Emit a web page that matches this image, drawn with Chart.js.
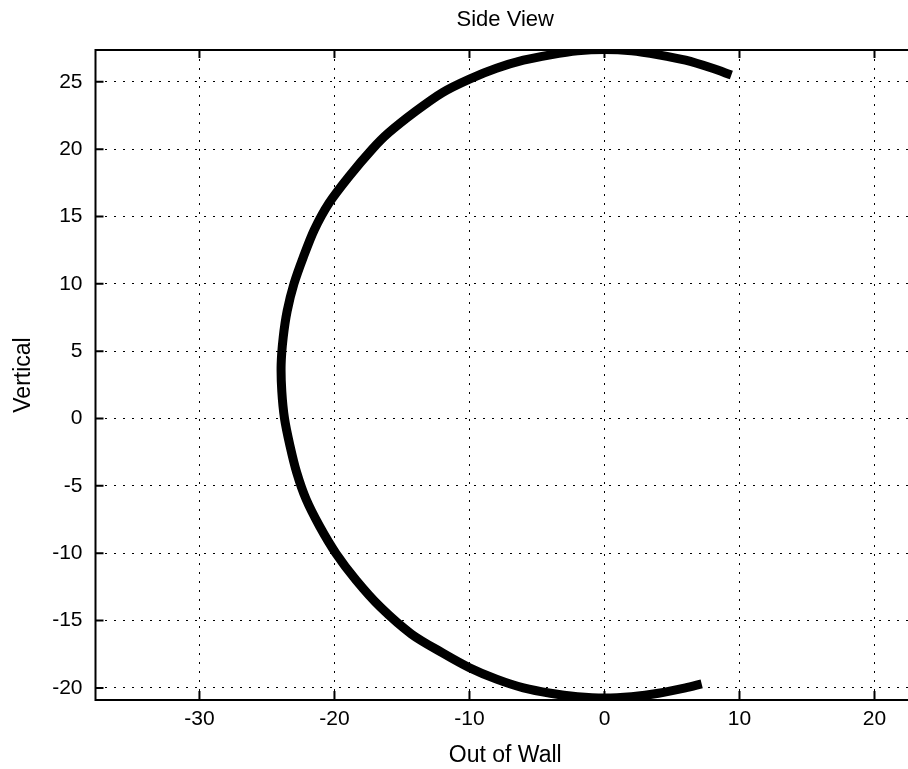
<!DOCTYPE html>
<html><head><meta charset="utf-8">
<script src="https://cdn.jsdelivr.net/npm/chart.js@4/dist/chart.umd.min.js"></script>
<style>html,body{margin:0;padding:0;background:#fff;overflow:hidden;}#wrap{width:930px;height:769px;}</style>
</head><body><div id="wrap"><canvas id="c" width="930" height="769"></canvas></div>
<script>
const chartTitle = 'Side View';
const xTitle = 'Out of Wall';
const yTitle = 'Vertical';
const xTicks = [-30, -20, -10, 0, 10, 20];
const yTicks = [-20, -15, -10, -5, 0, 5, 10, 15, 20, 25];
// points read along the arc, from the upper end round the left to the lower end
const sideX = [9.4, 8.0, 6.0, 4.0, 2.0, 0.0, -2.0, -4.0, -6.0, -8.0, -10.0, -12.0, -14.0, -16.0, -17.2, -18.9, -20.4, -21.5, -22.3, -23.0, -23.5, -23.8, -23.95, -23.9, -23.7, -23.3, -22.8, -22.1, -21.1, -19.9, -18.4, -16.6, -14.3, -12.0, -10.0, -8.0, -6.0, -4.0, -2.0, 0.0, 2.0, 4.0, 6.0, 7.2];
const sideY = [25.5, 26.0, 26.6, 27.0, 27.3, 27.4, 27.3, 27.0, 26.6, 26.0, 25.2, 24.2, 22.8, 21.2, 20.0, 18.0, 16.0, 14.0, 12.0, 10.0, 8.0, 6.0, 4.0, 2.0, 0.0, -2.0, -4.0, -6.0, -8.0, -10.0, -12.0, -14.0, -16.0, -17.4, -18.5, -19.35, -20.0, -20.4, -20.65, -20.75, -20.65, -20.4, -20.0, -19.7];

const FONT = "'Liberation Sans', Arial, sans-serif";
const pts = sideX.map((x, i) => ({x: x, y: sideY[i]}));

const boxPlugin = {
  id: 'box',
  afterDraw(chart) {
    const {ctx, chartArea: a, scales} = chart;
    ctx.save();
    ctx.strokeStyle = '#000';
    ctx.lineWidth = 2;
    ctx.strokeRect(a.left, a.top, a.right - a.left, a.bottom - a.top);
    ctx.beginPath();
    xTicks.forEach(v => {
      const p = scales.x.getPixelForValue(v);
      ctx.moveTo(p, a.bottom); ctx.lineTo(p, a.bottom - 9);
      ctx.moveTo(p, a.top); ctx.lineTo(p, a.top + 8);
    });
    yTicks.forEach(v => {
      const p = scales.y.getPixelForValue(v);
      ctx.moveTo(a.left, p); ctx.lineTo(a.left + 8, p);
    });
    ctx.stroke();
    ctx.restore();
  }
};

new Chart(document.getElementById('c'), {
  type: 'scatter',
  data: {
    datasets: [{
      data: pts,
      showLine: true,
      borderColor: '#000',
      backgroundColor: '#000',
      borderWidth: 9,
      tension: 0.3,
      pointRadius: 0
    }]
  },
  options: {
    responsive: false,
    animation: false,
    layout: {padding: {left: 0, right: 15, top: 0, bottom: 0}},
    plugins: {
      legend: {display: false},
      tooltip: {enabled: false},
      title: {display: true, fullSize: false, text: chartTitle, color: '#000', font: {family: FONT, size: 22, weight: 'normal'}, padding: {top: 7, bottom: 16.6}}
    },
    scales: {
      x: {
        type: 'linear', min: -37.7, max: 23.0,
        afterBuildTicks: s => { s.ticks = xTicks.map(v => ({value: v})); },
        afterFit: s => { s.height = 69; },
        grid: {color: '#000', lineWidth: 1, drawTicks: false},
        border: {display: false, dash: [2, 7]},
        ticks: {color: '#000', padding: 7, font: {family: FONT, size: 21}, maxRotation: 0},
        title: {display: true, text: xTitle, color: '#000', font: {family: FONT, size: 23}, padding: {top: 0, bottom: 0}}
      },
      y: {
        type: 'linear', min: -20.9, max: 27.36,
        afterBuildTicks: s => { s.ticks = yTicks.map(v => ({value: v})); },
        afterFit: s => { s.width = 95.5; },
        grid: {color: '#000', lineWidth: 1, drawTicks: false},
        border: {display: false, dash: [2, 7]},
        ticks: {color: '#000', padding: 13, font: {family: FONT, size: 21}},
        title: {display: true, text: yTitle, color: '#000', font: {family: FONT, size: 23}, padding: {top: 10, bottom: 0}}
      }
    }
  },
  plugins: [boxPlugin]
});
</script>
</body></html>
